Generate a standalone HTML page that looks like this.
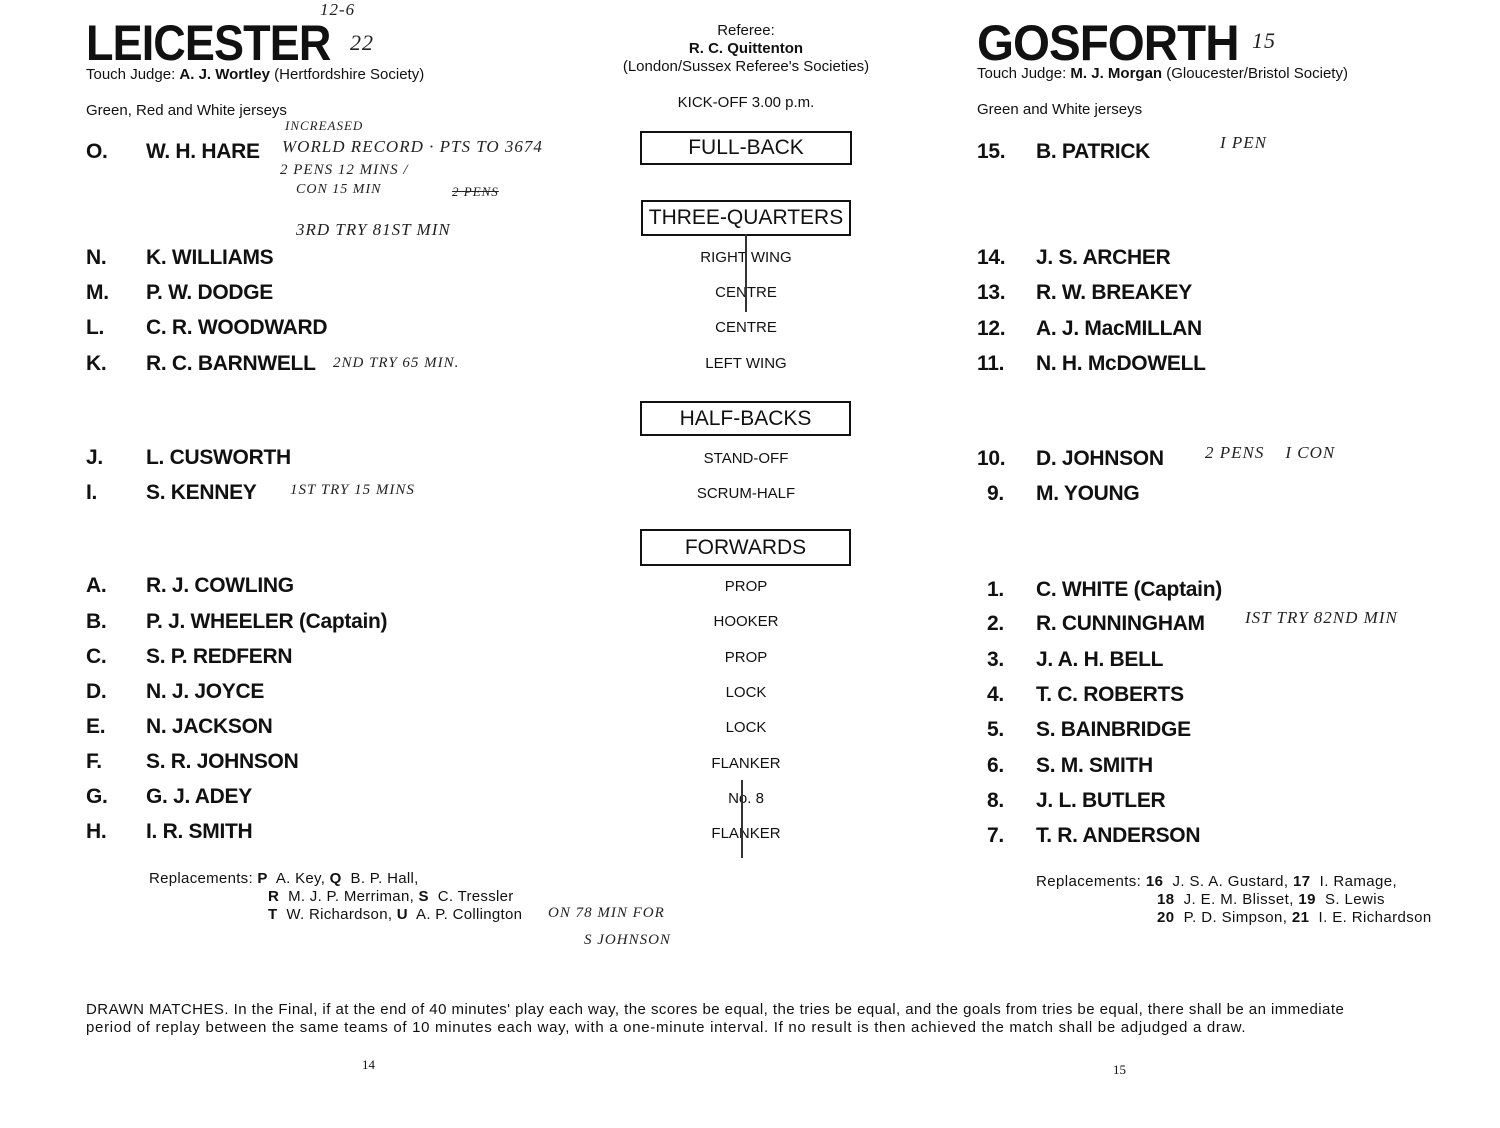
<!DOCTYPE html>
<html><head><meta charset="utf-8"><style>
body{margin:0;width:1500px;height:1128px;background:#fff;position:relative;overflow:hidden;font-family:"Liberation Sans",sans-serif;color:#111}
.a{position:absolute;white-space:nowrap}
.h{font-weight:bold;font-size:50px;transform-origin:0 0;letter-spacing:-1px}
.n{font-weight:bold;font-size:21px;letter-spacing:-0.3px}
.c{font-size:15px;width:300px;text-align:center;left:596px}
.box{position:absolute;border:2px solid #111;font-size:21px;text-align:center;box-sizing:border-box}
.s{font-size:15px}
.w{font-family:"Liberation Serif",serif;font-style:italic;font-size:17px;color:#222;letter-spacing:1px}
</style></head><body>
<div class="a h" style="left:86px;top:14px;transform:scaleX(0.9)">LEICESTER</div>
<div class="a w" style="left:350px;top:30px;font-size:22px">22</div>
<div class="a w" style="left:320px;top:0px">12-6</div>
<div class="a s" style="left:86px;top:66px">Touch Judge: <b>A. J. Wortley</b> (Hertfordshire Society)</div>
<div class="a s" style="left:86px;top:102px">Green, Red and White jerseys</div>

<div class="a h" style="left:977px;top:14px;transform:scaleX(0.95)">GOSFORTH</div>
<div class="a w" style="left:1252px;top:28px;font-size:22px">15</div>
<div class="a s" style="left:977px;top:65px">Touch Judge: <b>M. J. Morgan</b> (Gloucester/Bristol Society)</div>
<div class="a s" style="left:977px;top:101px">Green and White jerseys</div>

<div class="a c" style="top:22px">Referee:</div>
<div class="a c" style="top:40px"><b>R. C. Quittenton</b></div>
<div class="a c" style="top:58px">(London/Sussex Referee's Societies)</div>
<div class="a c" style="top:94px">KICK-OFF 3.00 p.m.</div>

<div class="box" style="left:640px;top:131px;width:212px;height:34px;line-height:30px">FULL-BACK</div>
<div class="box" style="left:641px;top:200px;width:210px;height:36px;line-height:32px">THREE-QUARTERS</div>
<div class="box" style="left:640px;top:401px;width:211px;height:35px;line-height:31px">HALF-BACKS</div>
<div class="box" style="left:640px;top:529px;width:211px;height:37px;line-height:33px">FORWARDS</div>

<div class="a c" style="top:249px">RIGHT WING</div>
<div class="a c" style="top:284px">CENTRE</div>
<div class="a c" style="top:319px">CENTRE</div>
<div class="a c" style="top:355px">LEFT WING</div>
<div class="a c" style="top:450px">STAND-OFF</div>
<div class="a c" style="top:485px">SCRUM-HALF</div>
<div class="a c" style="top:578px">PROP</div>
<div class="a c" style="top:613px">HOOKER</div>
<div class="a c" style="top:649px">PROP</div>
<div class="a c" style="top:684px">LOCK</div>
<div class="a c" style="top:719px">LOCK</div>
<div class="a c" style="top:755px">FLANKER</div>
<div class="a c" style="top:790px">No. 8</div>
<div class="a c" style="top:825px">FLANKER</div>

<div class="a n" style="left:86px;top:140px">O.</div><div class="a n" style="left:146px;top:140px">W. H. HARE</div>
<div class="a n" style="left:86px;top:246px">N.</div><div class="a n" style="left:146px;top:246px">K. WILLIAMS</div>
<div class="a n" style="left:86px;top:281px">M.</div><div class="a n" style="left:146px;top:281px">P. W. DODGE</div>
<div class="a n" style="left:86px;top:316px">L.</div><div class="a n" style="left:146px;top:316px">C. R. WOODWARD</div>
<div class="a n" style="left:86px;top:352px">K.</div><div class="a n" style="left:146px;top:352px">R. C. BARNWELL</div>
<div class="a n" style="left:86px;top:446px">J.</div><div class="a n" style="left:146px;top:446px">L. CUSWORTH</div>
<div class="a n" style="left:86px;top:481px">I.</div><div class="a n" style="left:146px;top:481px">S. KENNEY</div>
<div class="a n" style="left:86px;top:574px">A.</div><div class="a n" style="left:146px;top:574px">R. J. COWLING</div>
<div class="a n" style="left:86px;top:610px">B.</div><div class="a n" style="left:146px;top:610px">P. J. WHEELER (Captain)</div>
<div class="a n" style="left:86px;top:645px">C.</div><div class="a n" style="left:146px;top:645px">S. P. REDFERN</div>
<div class="a n" style="left:86px;top:680px">D.</div><div class="a n" style="left:146px;top:680px">N. J. JOYCE</div>
<div class="a n" style="left:86px;top:715px">E.</div><div class="a n" style="left:146px;top:715px">N. JACKSON</div>
<div class="a n" style="left:86px;top:750px">F.</div><div class="a n" style="left:146px;top:750px">S. R. JOHNSON</div>
<div class="a n" style="left:86px;top:785px">G.</div><div class="a n" style="left:146px;top:785px">G. J. ADEY</div>
<div class="a n" style="left:86px;top:820px">H.</div><div class="a n" style="left:146px;top:820px">I. R. SMITH</div>

<div class="a n" style="left:977px;top:140px">15.</div><div class="a n" style="left:1036px;top:140px">B. PATRICK</div>
<div class="a n" style="left:977px;top:246px">14.</div><div class="a n" style="left:1036px;top:246px">J. S. ARCHER</div>
<div class="a n" style="left:977px;top:281px">13.</div><div class="a n" style="left:1036px;top:281px">R. W. BREAKEY</div>
<div class="a n" style="left:977px;top:317px">12.</div><div class="a n" style="left:1036px;top:317px">A. J. MacMILLAN</div>
<div class="a n" style="left:977px;top:352px">11.</div><div class="a n" style="left:1036px;top:352px">N. H. McDOWELL</div>
<div class="a n" style="left:977px;top:447px">10.</div><div class="a n" style="left:1036px;top:447px">D. JOHNSON</div>
<div class="a n" style="left:987px;top:482px">9.</div><div class="a n" style="left:1036px;top:482px">M. YOUNG</div>
<div class="a n" style="left:987px;top:578px">1.</div><div class="a n" style="left:1036px;top:578px">C. WHITE (Captain)</div>
<div class="a n" style="left:987px;top:612px">2.</div><div class="a n" style="left:1036px;top:612px">R. CUNNINGHAM</div>
<div class="a n" style="left:987px;top:648px">3.</div><div class="a n" style="left:1036px;top:648px">J. A. H. BELL</div>
<div class="a n" style="left:987px;top:683px">4.</div><div class="a n" style="left:1036px;top:683px">T. C. ROBERTS</div>
<div class="a n" style="left:987px;top:718px">5.</div><div class="a n" style="left:1036px;top:718px">S. BAINBRIDGE</div>
<div class="a n" style="left:987px;top:754px">6.</div><div class="a n" style="left:1036px;top:754px">S. M. SMITH</div>
<div class="a n" style="left:987px;top:789px">8.</div><div class="a n" style="left:1036px;top:789px">J. L. BUTLER</div>
<div class="a n" style="left:987px;top:824px">7.</div><div class="a n" style="left:1036px;top:824px">T. R. ANDERSON</div>

<div class="a s" style="left:149px;top:870px;letter-spacing:0.3px">Replacements: <b>P</b>&nbsp; A. Key, <b>Q</b>&nbsp; B. P. Hall,</div>
<div class="a s" style="left:268px;top:888px;letter-spacing:0.3px"><b>R</b>&nbsp; M. J. P. Merriman, <b>S</b>&nbsp; C. Tressler</div>
<div class="a s" style="left:268px;top:906px;letter-spacing:0.3px"><b>T</b>&nbsp; W. Richardson, <b>U</b>&nbsp; A. P. Collington</div>
<div class="a s" style="left:1036px;top:873px;letter-spacing:0.4px">Replacements: <b>16</b>&nbsp; J. S. A. Gustard, <b>17</b>&nbsp; I. Ramage,</div>
<div class="a s" style="left:1157px;top:891px;letter-spacing:0.4px"><b>18</b>&nbsp; J. E. M. Blisset, <b>19</b>&nbsp; S. Lewis</div>
<div class="a s" style="left:1157px;top:909px;letter-spacing:0.4px"><b>20</b>&nbsp; P. D. Simpson, <b>21</b>&nbsp; I. E. Richardson</div>

<div class="a s" style="left:86px;top:1001px;letter-spacing:0.45px">DRAWN MATCHES. In the Final, if at the end of 40 minutes' play each way, the scores be equal, the tries be equal, and the goals from tries be equal, there shall be an immediate</div>
<div class="a s" style="left:86px;top:1019px;letter-spacing:0.7px">period of replay between the same teams of 10 minutes each way, with a one-minute interval. If no result is then achieved the match shall be adjudged a draw.</div>
<div class="a" style="left:362px;top:1057px;font-family:'Liberation Serif',serif;font-size:13px">14</div>
<div class="a" style="left:1113px;top:1062px;font-family:'Liberation Serif',serif;font-size:13px">15</div>

<div class="a w" style="left:285px;top:118px;font-size:13px">INCREASED</div>
<div class="a w" style="left:282px;top:137px">WORLD RECORD · PTS TO 3674</div>
<div class="a w" style="left:280px;top:162px;font-size:15px">2 PENS 12 MINS /</div>
<div class="a w" style="left:296px;top:182px;font-size:14px">CON 15 MIN</div>
<div class="a w" style="left:452px;top:184px;font-size:13px;text-decoration:line-through">2 PENS</div>
<div class="a w" style="left:296px;top:220px">3RD TRY 81ST MIN</div>
<div class="a w" style="left:333px;top:355px;font-size:15px">2ND TRY 65 MIN.</div>
<div class="a w" style="left:290px;top:482px;font-size:15px">1ST TRY 15 MINS</div>
<div class="a w" style="left:548px;top:905px;font-size:15px">ON 78 MIN FOR</div>
<div class="a w" style="left:584px;top:932px;font-size:15px">S JOHNSON</div>
<div class="a w" style="left:1220px;top:133px">I PEN</div>
<div class="a w" style="left:1205px;top:443px">2 PENS &nbsp;&nbsp; I CON</div>
<div class="a w" style="left:1245px;top:608px">IST TRY 82ND MIN</div>
<div class="a" style="left:745px;top:234px;width:2px;height:78px;background:#333"></div>
<div class="a" style="left:741px;top:780px;width:2px;height:78px;background:#333"></div>
</body></html>
